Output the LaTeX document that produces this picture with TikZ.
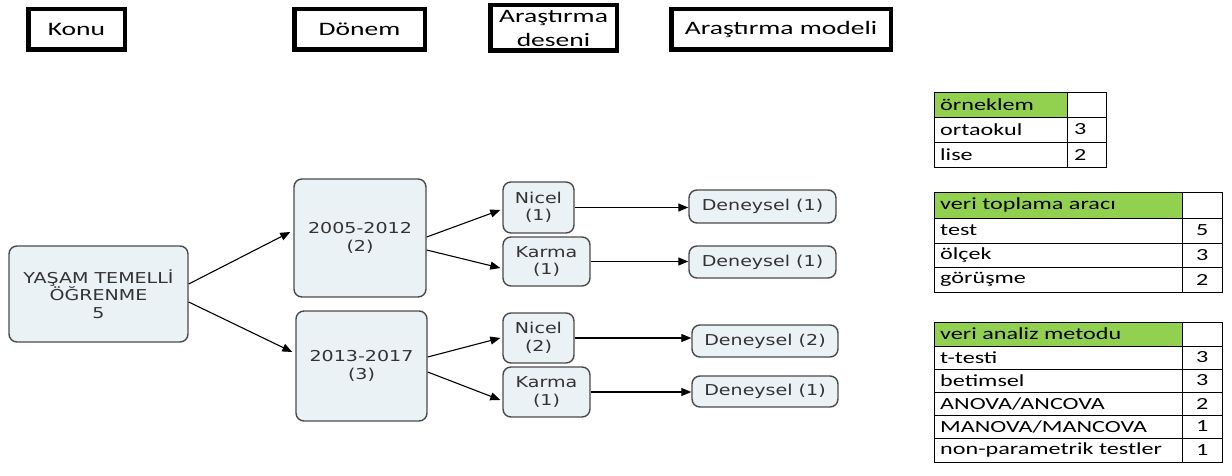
\documentclass[tikz,border=0pt]{standalone}
\usepackage{fontspec}
\setmainfont{Carlito}
\newfontfamily\hdrfont{Carlito}[FakeStretch=1.45]
\newfontfamily\flowfont{DejaVu Sans}[FakeStretch=1.27]
\newfontfamily\tabfont{Carlito}[FakeStretch=1.42]
\usetikzlibrary{arrows.meta}
\definecolor{boxfill}{HTML}{EBF2F5}
\definecolor{boxline}{HTML}{4A4A4A}
\definecolor{txt}{HTML}{333333}
\definecolor{hdrgreen}{HTML}{92D050}
\begin{document}
\begin{tikzpicture}[x=1pt,y=-1pt,
  hdr/.style={draw=black, line width=4.5pt, fill=white, inner sep=0pt,
    font=\hdrfont\fontsize{19}{24}\selectfont, align=center},
  fbox/.style={draw=boxline, line width=1.4pt, fill=boxfill, rounded corners=8pt,
    inner sep=0pt, text=txt, align=center,
    font=\flowfont\fontsize{15}{17.5}\selectfont},
  arr/.style={draw=black, line width=1.1pt, -{Triangle[length=10pt,width=8pt]}},
  tline/.style={draw=black, line width=0.9pt},
  ttext/.style={inner sep=0pt, anchor=west, font=\tabfont\fontsize{17}{17}\selectfont}
]
\useasboundingbox (0,0) rectangle (1232,476);
\fill[white] (0,0) rectangle (1232,476);

% headers
\node[hdr, minimum width=96.5pt, minimum height=40.5pt] (hkonu) at (76.5,29.5) {Konu};
\node[hdr, minimum width=130.5pt, minimum height=40.5pt] (hdonem) at (359.5,29.5) {Dönem};
\node[hdr, minimum width=126.5pt, minimum height=45.5pt] (hdesen) at (553.5,28) {Araştırma\\deseni};
\node[hdr, minimum width=219.5pt, minimum height=40.5pt] (hmodel) at (781,29.5) {Araştırma modeli};

% flow boxes
\node[fbox, minimum width=179pt, minimum height=96pt] (M) at (98.5,294) {YAŞAM TEMELLİ\\ÖĞRENME\\5};
\node[fbox, minimum width=132pt, minimum height=118pt] (P1) at (360,238) {2005-2012\\(2)};
\node[fbox, minimum width=131pt, minimum height=110pt] (P2) at (361.5,366) {2013-2017\\(3)};
\node[fbox, minimum width=71pt, minimum height=51pt] (N1) at (538.5,207.5) {Nicel\\(1)};
\node[fbox, minimum width=87pt, minimum height=49pt] (K1) at (546.5,261.5) {Karma\\(1)};
\node[fbox, minimum width=71pt, minimum height=50pt] (N2) at (538.5,338) {Nicel\\(2)};
\node[fbox, minimum width=87pt, minimum height=50pt] (K2) at (546.5,392) {Karma\\(1)};
\node[fbox, minimum width=147pt, minimum height=33pt] (D1) at (762.5,206.5) {Deneysel (1)};
\node[fbox, minimum width=147pt, minimum height=32pt] (D2) at (762.5,262) {Deneysel (1)};
\node[fbox, minimum width=146pt, minimum height=32pt] (D3) at (765,341) {Deneysel (2)};
\node[fbox, minimum width=146pt, minimum height=31pt] (D4) at (765,391.5) {Deneysel (1)};

% connectors
\draw[arr] ([yshift=10pt]M.east) -- ([xshift=-3pt,yshift=6pt]P1.west);
\draw[arr] ([yshift=-8pt]M.east) -- ([xshift=-3pt,yshift=14pt]P2.west);
\draw[arr] ([yshift=1pt]P1.east) -- ([xshift=-2pt,yshift=-2.5pt]N1.west);
\draw[arr] ([yshift=-12pt]P1.east) -- ([xshift=-2pt,yshift=-6.5pt]K1.west);
\draw[arr] ([yshift=9pt]P2.east) -- ([xshift=-2pt]N2.west);
\draw[arr] ([yshift=-6pt]P2.east) -- ([xshift=-2pt,yshift=-8pt]K2.west);
\draw[arr] (N1.east) -- (N1.east -| D1.west);
\draw[arr] (K1.east) -- (K1.east -| D2.west);
\draw[arr] (N2.east) -- (N2.east -| D3.west);
\draw[arr] (K2.east) -- (K2.east -| D4.west);

% table 1
\fill[hdrgreen] (934,92) rectangle (1067,117);
\draw[tline] (934,92) rectangle (1106,167);
\foreach \yy in {117,142} \draw[tline] (934,\yy) -- (1106,\yy);
\draw[tline] (1067,92) -- (1067,167);
\node[ttext] (t1h) at (940,104.5) {örneklem};
\node[ttext] (t1a) at (940,129.5) {ortaokul};
\node[ttext] (t1an) at (1074,129.5) {3};
\node[ttext] (t1b) at (940,154.5) {lise};
\node[ttext] (t1bn) at (1074,154.5) {2};

% table 2
\fill[hdrgreen] (934,192) rectangle (1182,218);
\draw[tline] (934,192) rectangle (1222,292);
\foreach \yy in {218,243,267} \draw[tline] (934,\yy) -- (1222,\yy);
\draw[tline] (1182,192) -- (1182,292);
\node[ttext] (t2h) at (940,205) {veri toplama aracı};
\node[ttext] (t2a) at (940,230.5) {test};
\node[ttext] (t2an) at (1196,230.5) {5};
\node[ttext] (t2b) at (940,255) {ölçek};
\node[ttext] (t2bn) at (1196,255) {3};
\node[ttext] (t2c) at (940,279.5) {görüşme};
\node[ttext] (t2cn) at (1196,279.5) {2};

% table 3
\fill[hdrgreen] (934,322) rectangle (1182,346);
\draw[tline] (934,322) rectangle (1222,462);
\foreach \yy in {346,369,392,415,438} \draw[tline] (934,\yy) -- (1222,\yy);
\draw[tline] (1182,322) -- (1182,462);
\node[ttext] (t3h) at (940,334) {veri analiz metodu};
\node[ttext] (t3a) at (940,357.5) {t-testi};
\node[ttext] (t3an) at (1196,357.5) {3};
\node[ttext] (t3b) at (940,380.5) {betimsel};
\node[ttext] (t3bn) at (1196,380.5) {3};
\node[ttext] (t3c) at (940,403.5) {ANOVA/ANCOVA};
\node[ttext] (t3cn) at (1196,403.5) {2};
\node[ttext] (t3d) at (940,426.5) {MANOVA/MANCOVA};
\node[ttext] (t3dn) at (1196,426.5) {1};
\node[ttext] (t3e) at (940,450) {non-parametrik testler};
\node[ttext] (t3en) at (1196,450) {1};
\end{tikzpicture}
\end{document}
